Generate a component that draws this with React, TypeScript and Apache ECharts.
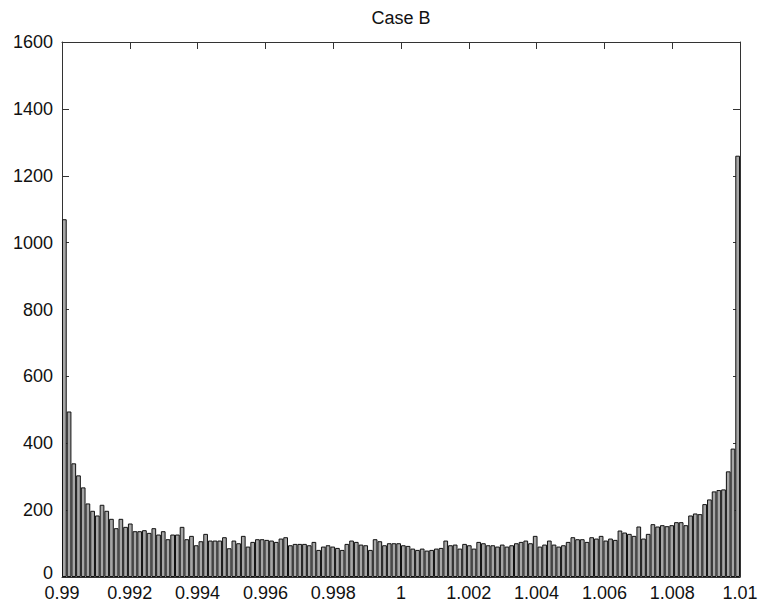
import React, { useEffect, useRef } from "react";
import * as echarts from "echarts";

const chartTitle = "Case B";

// histogram bin counts, left to right (0.99 .. 1.01)
const binCounts: number[] = [
  1070, 495, 340, 304, 268, 220, 198, 184, 216, 198, 174, 146, 174, 150, 160, 137, 137, 140, 132, 146,
  127, 137, 113, 127, 127, 150, 113, 123,
  95, 107, 129, 109, 109, 109, 119, 86, 109, 101, 123, 91, 105, 113, 113, 111, 109, 105,
  115, 119, 95, 99, 99, 99, 95, 105, 81, 91, 95, 91, 87, 81, 99, 109, 105, 97, 95, 81,
  113, 107, 95, 101, 101, 101, 95, 93, 85, 81, 85, 79, 81, 85, 87, 109, 95, 97, 85, 99, 95, 85,
  105, 101, 95, 95, 91, 97, 91, 95, 101, 105, 109, 101, 123, 91, 97, 109, 97, 91, 95, 105,
  119, 113, 113, 105, 119, 115,
  123, 109, 115, 111, 139, 133, 129, 123, 151, 115, 129, 158, 151, 155, 152, 155, 164, 164, 155, 184,
  190, 188, 218, 232, 256, 260, 262, 316, 384, 1260,
];

const xMin = 0.99;
const xMax = 1.01;
const xStep = 0.002;
const yMin = 0;
const yMax = 1600;
const yStep = 200;

export default function App() {
  const ref = useRef<HTMLDivElement>(null);

  useEffect(() => {
    document.body.style.margin = "0";
    const chart = echarts.init(ref.current as HTMLDivElement, null, { renderer: "svg" });
    const fontFamily = "'Liberation Sans', Arial, sans-serif";
    const fontSize = 18;
    const textColor = "#111";
    const lineColor = "#333";
    const binIds = binCounts.map((_, i) => String(i));
    const fmtX = (v: number) => String(parseFloat(v.toFixed(3)));
    const fmtY = (v: number) => (v === 0 ? "{z|0}" : String(Math.round(v)));

    const valueXAxis = (position: "top" | "bottom", showLabel: boolean) => ({
      type: "value",
      position,
      min: xMin,
      max: xMax,
      interval: xStep,
      axisLine: { show: true, onZero: false, lineStyle: { color: lineColor, width: 1 } },
      axisTick: { show: true, inside: true, length: 7, lineStyle: { color: lineColor, width: 1 } },
      axisLabel: {
        show: showLabel,
        margin: 7,
        formatter: fmtX,
        fontFamily,
        fontSize,
        color: textColor,
      },
      splitLine: { show: false },
    });

    const valueYAxis = (position: "left" | "right", showLabel: boolean) => ({
      type: "value",
      position,
      min: yMin,
      max: yMax,
      interval: yStep,
      axisLine: { show: true, onZero: false, lineStyle: { color: lineColor, width: 1 } },
      axisTick: { show: true, inside: true, length: 7, lineStyle: { color: lineColor, width: 1 } },
      axisLabel: {
        show: showLabel,
        margin: 9,
        formatter: fmtY,
        fontFamily,
        fontSize,
        color: textColor,
        rich: { z: { fontFamily, fontSize, color: textColor, padding: [0, 0, 8, 0] } },
      },
      splitLine: { show: false },
    });

    chart.setOption({
      animation: false,
      backgroundColor: "#ffffff",
      grid: { left: 62, right: 27, top: 42, bottom: 28, containLabel: false },
      graphic: [
        {
          type: "text",
          x: 401,
          y: 18,
          style: {
            text: chartTitle,
            align: "center",
            verticalAlign: "middle",
            fontFamily,
            fontSize,
            fill: textColor,
          },
        },
      ],
      xAxis: [
        { type: "category", data: binIds, show: false, boundaryGap: true },
        valueXAxis("bottom", true),
        valueXAxis("top", false),
      ],
      yAxis: [valueYAxis("left", true), valueYAxis("right", false)],
      series: [
        {
          type: "bar",
          xAxisIndex: 0,
          yAxisIndex: 0,
          data: binCounts,
          barCategoryGap: "0%",
          barGap: "0%",
          itemStyle: { color: "#a6a6a6", borderColor: "#111", borderWidth: 1 },
        },
      ],
    });

    return () => {
      chart.dispose();
    };
  }, []);

  return <div ref={ref} style={{ width: 767, height: 605 }} />;
}
